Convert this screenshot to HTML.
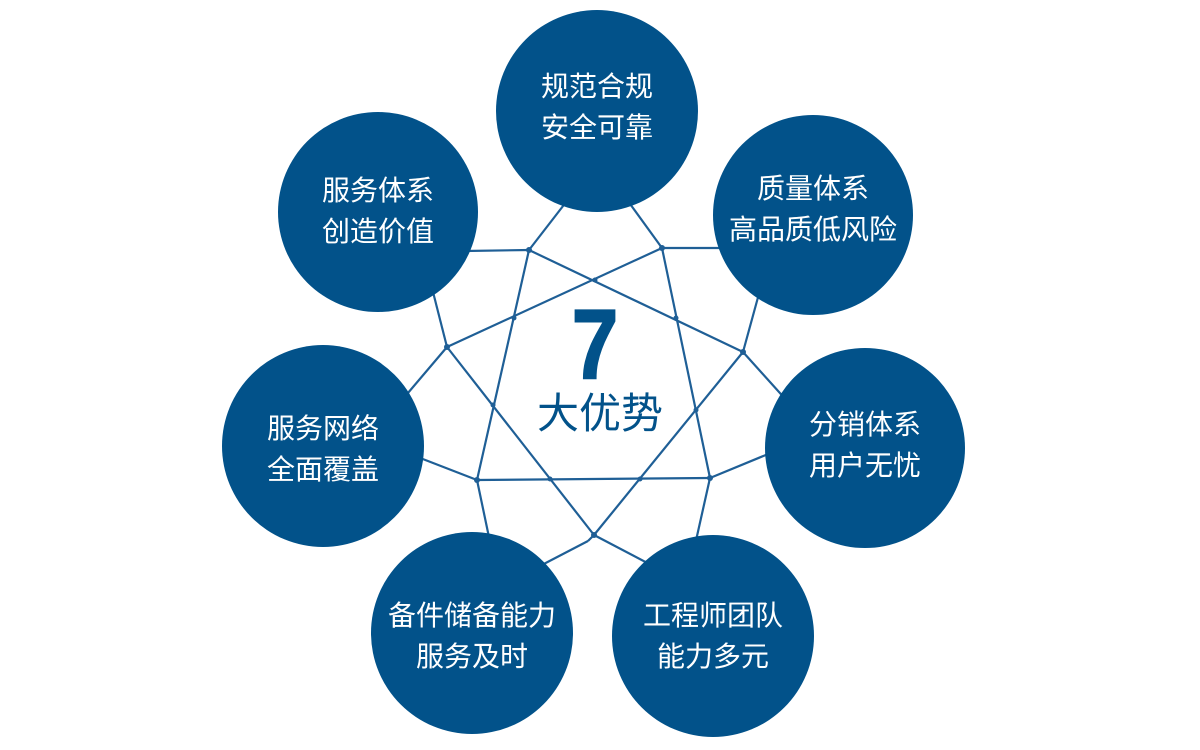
<!DOCTYPE html>
<html><head><meta charset="utf-8"><style>
html,body{margin:0;padding:0;background:#fff;}
svg{display:block}
.t{font-family:"Liberation Sans","Noto Sans CJK SC",sans-serif;font-size:28px;fill:#fff;text-anchor:middle}
</style></head><body>
<svg width="1200" height="750" viewBox="0 0 1200 750">
<g stroke="#1f5f96" stroke-width="2.2" fill="none">
<line x1="529" y1="250" x2="743" y2="352"/>
<line x1="662" y1="248" x2="447" y2="347"/>
<line x1="447" y1="347" x2="594" y2="535"/>
<line x1="743" y1="352" x2="594" y2="535"/>
<line x1="477" y1="480" x2="710" y2="478"/>
<line x1="529" y1="250" x2="477" y2="480"/>
<line x1="662" y1="248" x2="710" y2="478"/>
<line x1="529" y1="250" x2="570" y2="197"/><line x1="529" y1="250" x2="465" y2="251"/>
<line x1="662" y1="248" x2="625" y2="197"/><line x1="662" y1="248" x2="725" y2="248"/>
<line x1="743" y1="352" x2="760" y2="290"/><line x1="743" y1="352" x2="788" y2="402"/>
<line x1="710" y1="478" x2="773" y2="452"/><line x1="710" y1="478" x2="695" y2="545"/>
<line x1="594" y1="535" x2="655" y2="567"/><line x1="594" y1="535" x2="588" y2="541"/><line x1="588" y1="541" x2="538" y2="567"/>
<line x1="477" y1="480" x2="490" y2="542"/><line x1="477" y1="480" x2="415" y2="456"/>
<line x1="447" y1="347" x2="402" y2="400"/><line x1="447" y1="347" x2="432" y2="288"/>
</g>
<g fill="#1f5f96">
<circle cx="529" cy="250" r="3"/><circle cx="662" cy="248" r="3"/><circle cx="743" cy="352" r="3"/>
<circle cx="710" cy="478" r="3"/><circle cx="594" cy="535" r="3"/><circle cx="477" cy="480" r="3"/><circle cx="447" cy="347" r="3"/>
<circle cx="514" cy="318" r="2.5"/><circle cx="676" cy="318" r="2.5"/><circle cx="493" cy="405" r="2.5"/><circle cx="696" cy="410" r="2.5"/>
<circle cx="550" cy="479" r="2.5"/><circle cx="640" cy="479" r="2.5"/><circle cx="595" cy="280" r="2.5"/>
</g>
<g fill="#02528a">
<circle cx="597" cy="111" r="101"/>
<circle cx="813" cy="215" r="100"/>
<circle cx="865" cy="448" r="100"/>
<circle cx="713" cy="636" r="101"/>
<circle cx="472" cy="633" r="101"/>
<circle cx="323" cy="446" r="101"/>
<circle cx="378" cy="212" r="100"/>
</g>
<text class="t" x="597" y="96">规范合规</text><text class="t" x="597" y="137">安全可靠</text>
<text class="t" x="813" y="198">质量体系</text><text class="t" x="813" y="239">高品质低风险</text>
<text class="t" x="865" y="434">分销体系</text><text class="t" x="865" y="475">用户无忧</text>
<text class="t" x="713" y="625">工程师团队</text><text class="t" x="713" y="666">能力多元</text>
<text class="t" x="472" y="625">备件储备能力</text><text class="t" x="472" y="666">服务及时</text>
<text class="t" x="323" y="438">服务网络</text><text class="t" x="323" y="479">全面覆盖</text>
<text class="t" x="378" y="200">服务体系</text><text class="t" x="378" y="241">创造价值</text>
<text transform="translate(595,378) scale(0.85,1)" font-family="Liberation Sans,sans-serif" font-weight="bold" font-size="98" fill="#02528a" text-anchor="middle" stroke="#02528a" stroke-width="2">7</text>
<text x="600" y="428" font-family="Liberation Sans,Noto Sans CJK SC,sans-serif" font-size="42" fill="#02528a" text-anchor="middle">大优势</text>
</svg>
</body></html>
